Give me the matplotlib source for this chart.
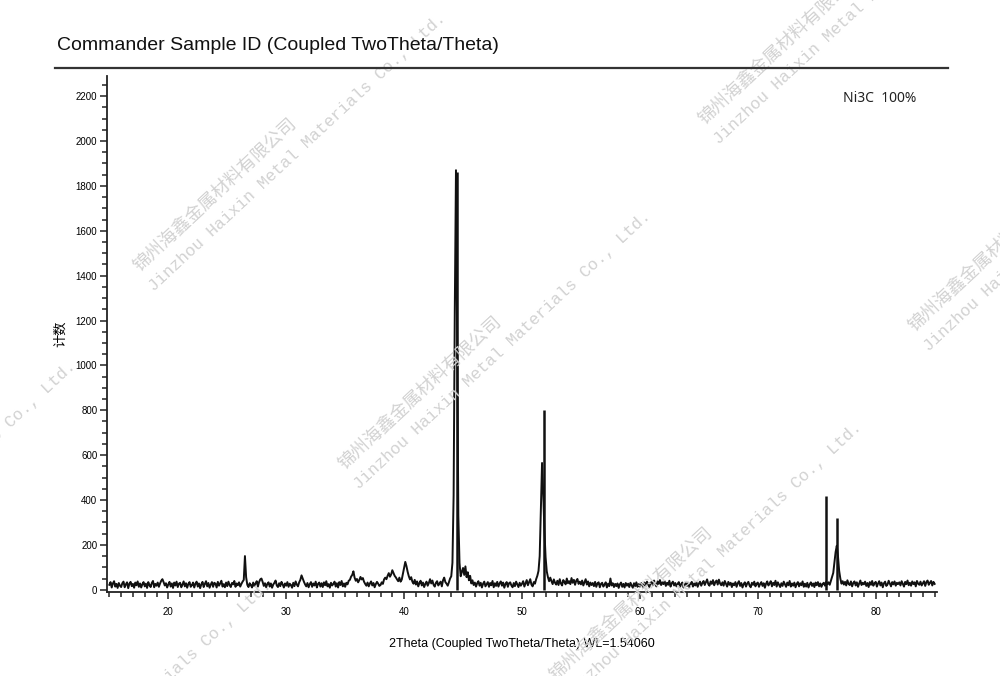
import numpy as np
import matplotlib
matplotlib.use("Agg")
import matplotlib.pyplot as plt
from matplotlib.ticker import MultipleLocator

plt.rcParams['font.family'] = ['Liberation Sans', 'Noto Sans CJK SC', 'DejaVu Sans']

# scan: 2theta from 15.0 to 85.0, step 0.1 deg; one row per degree
scan_start = 15.0
scan_step = 0.1
counts = [
    22, 34, 10, 28, 38, 14, 26, 8, 30, 18,    # 15
    12, 29, 36, 11, 24, 33, 7, 27, 35, 16,    # 16
    26, 9, 32, 20, 37, 13, 28, 10, 25, 34,    # 17
    15, 27, 8, 34, 21, 12, 30, 39, 11, 26,    # 18
    18, 32, 13, 28, 40, 47, 34, 19, 29, 10,   # 19
    24, 35, 14, 28, 8, 32, 19, 36, 12, 27,    # 20
    31, 11, 23, 37, 15, 29, 9, 26, 34, 13,    # 21
    20, 32, 10, 27, 36, 14, 28, 7, 24, 35,    # 22
    12, 26, 38, 15, 30, 9, 23, 34, 13, 31,    # 23
    27, 10, 35, 18, 28, 40, 14, 25, 11, 32,   # 24
    16, 36, 21, 12, 30, 24, 39, 13, 28, 20,   # 25
    33, 14, 26, 36, 44, 150, 56, 22, 12, 29,  # 26
    21, 10, 32, 16, 28, 38, 14, 34, 46, 50,   # 27
    35, 17, 29, 11, 26, 33, 14, 28, 9, 23,    # 28
    31, 41, 19, 12, 29, 16, 35, 24, 10, 28,   # 29
    18, 34, 13, 27, 21, 9, 31, 16, 37, 23,    # 30
    15, 33, 44, 64, 50, 36, 24, 15, 30, 11,   # 31
    25, 34, 13, 28, 19, 36, 10, 26, 32, 14,   # 32
    29, 12, 33, 20, 38, 15, 25, 9, 31, 19,    # 33
    26, 36, 14, 29, 10, 34, 21, 39, 15, 28,   # 34
    13, 31, 24, 40, 44, 58, 66, 82, 54, 40,   # 35
    48, 33, 43, 57, 46, 52, 36, 26, 18, 32,   # 36
    15, 28, 37, 19, 30, 11, 25, 35, 27, 17,   # 37
    21, 33, 26, 46, 54, 47, 62, 74, 58, 68,   # 38
    87, 74, 62, 55, 46, 38, 54, 36, 45, 72,   # 39
    100, 124, 105, 80, 60, 46, 56, 36, 27, 44,  # 40
    23, 37, 15, 30, 40, 19, 32, 12, 26, 36,   # 41
    18, 30, 47, 28, 41, 22, 14, 31, 38, 19,   # 42
    28, 36, 15, 42, 54, 34, 27, 18, 33, 50,   # 43
    60, 120, 420, 1250, 1870, 1100, 330, 120, 60, 80,  # 44
    97, 66, 104, 56, 78, 42, 62, 28, 42, 21,  # 45
    32, 14, 29, 38, 18, 31, 10, 27, 36, 15,   # 46
    25, 34, 13, 30, 20, 39, 11, 29, 17, 35,   # 47
    14, 28, 37, 18, 32, 9, 26, 34, 13, 29,    # 48
    33, 19, 11, 30, 16, 36, 24, 12, 31, 18,   # 49
    27, 38, 14, 29, 43, 20, 33, 47, 23, 15,   # 50
    34, 27, 47, 62, 84, 150, 350, 565, 430, 265,  # 51
    145, 82, 56, 38, 54, 38, 25, 46, 31, 23,  # 52
    40, 21, 47, 28, 19, 43, 35, 24, 50, 29,   # 53
    38, 25, 52, 31, 44, 22, 40, 48, 26, 36,   # 54
    24, 41, 19, 33, 47, 23, 37, 15, 32, 21,   # 55
    30, 16, 35, 13, 28, 33, 11, 26, 31, 14,   # 56
    23, 33, 10, 27, 16, 50, 19, 29, 12, 26,   # 57
    16, 28, 8, 24, 32, 13, 26, 10, 30, 18,    # 58
    27, 12, 31, 19, 9, 29, 16, 33, 13, 25,    # 59
    14, 30, 21, 11, 32, 18, 36, 24, 12, 31,   # 60
    34, 20, 41, 25, 15, 37, 26, 43, 21, 33,   # 61
    25, 38, 17, 31, 22, 40, 14, 29, 36, 19,   # 62
    30, 15, 26, 34, 12, 25, 32, 10, 23, 29,   # 63
    17, 31, 11, 26, 35, 14, 28, 19, 33, 13,   # 64
    27, 36, 18, 30, 39, 21, 33, 46, 25, 18,   # 65
    37, 26, 43, 20, 34, 41, 23, 45, 28, 20,   # 66
    33, 18, 39, 26, 14, 35, 22, 31, 12, 28,   # 67
    20, 34, 13, 29, 38, 17, 30, 10, 25, 33,   # 68
    14, 28, 35, 19, 11, 31, 22, 36, 15, 27,   # 69
    32, 13, 26, 34, 17, 29, 9, 27, 37, 19,    # 70
    28, 38, 15, 31, 21, 40, 14, 33, 23, 12,   # 71
    29, 17, 36, 24, 13, 32, 20, 39, 14, 28,   # 72
    18, 32, 11, 26, 34, 15, 29, 20, 37, 13,   # 73
    27, 14, 31, 10, 24, 33, 17, 28, 12, 32,   # 74
    20, 34, 15, 28, 13, 26, 31, 18, 36, 24,   # 75
    33, 22, 40, 58, 75, 120, 168, 196, 150, 85,  # 76
    50, 27, 38, 23, 35, 19, 42, 26, 21, 37,   # 77
    15, 30, 37, 19, 33, 13, 28, 41, 21, 31,   # 78
    24, 36, 17, 30, 12, 34, 22, 39, 18, 29,   # 79
    35, 14, 28, 38, 19, 32, 11, 29, 36, 17,   # 80
    23, 40, 27, 15, 34, 24, 37, 18, 31, 25,   # 81
    33, 19, 38, 26, 14, 35, 25, 41, 20, 31,   # 82
    18, 37, 25, 33, 15, 39, 27, 22, 36, 19,   # 83
    29, 38, 17, 34, 41, 22, 31, 39, 19, 35,   # 84
    26,                                       # 85
]
two_theta = scan_start + scan_step * np.arange(len(counts))

# reference pattern sticks (Ni3C)
stick_pos = [44.45, 51.85, 75.8, 76.75]
stick_int = [1860, 800, 420, 320]

x_ticks = [20, 30, 40, 50, 60, 70, 80]
y_ticks = [0, 200, 400, 600, 800, 1000, 1200, 1400, 1600, 1800, 2000, 2200]

fig = plt.figure(figsize=(10, 6.76), dpi=100)
ax = fig.add_axes([0.107, 0.1243, 0.83, 0.7633])

ax.plot(two_theta, counts, color='#111111', lw=1.4)
ax.vlines(stick_pos, 0, stick_int, color='#111111', lw=1.8)

ax.set_xlim(14.8, 85.2)
ax.set_ylim(-10, 2290)
ax.set_xticks(x_ticks)
ax.set_yticks(y_ticks)
ax.xaxis.set_minor_locator(MultipleLocator(1))
ax.yaxis.set_minor_locator(MultipleLocator(50))
ax.tick_params(which='major', length=5, width=1.1, labelsize=7, color='#222222', pad=2)
ax.tick_params(which='minor', length=3.5, width=1.1, color='#222222')
ax.tick_params(axis='x', pad=6)

for s in ['top', 'right']:
    ax.spines[s].set_visible(False)
for s in ['left', 'bottom']:
    ax.spines[s].set_linewidth(1.3)
    ax.spines[s].set_color('#222222')

ax.set_ylabel('计数', fontsize=9.5, labelpad=6)
ax.set_xlabel('2Theta (Coupled TwoTheta/Theta) WL=1.54060', fontsize=9, labelpad=15)

fig.text(0.057, 1 - 46 / 676, 'Commander Sample ID (Coupled TwoTheta/Theta)',
         fontsize=14, va='center', ha='left', color='#111111')
fig.add_artist(plt.Line2D([0.055, 0.948], [1 - 68 / 676] * 2, color='#333333', lw=1.6))

fig.text(0.843, 1 - 98 / 676, 'Ni3C  100%', fontsize=10, va='center', ha='left',
         family=['Noto Sans', 'DejaVu Sans'], color='#222222')

# watermarks
wm_cn = '锦州海鑫金属材料有限公司'
wm_en = 'Jinzhou Haixin Metal Materials Co., Ltd.'
wm_spots = [(140, 272), (345, 470), (705, 125), (915, 332), (556, 681), (-230, 620), (-34, 839)]
for px, py in wm_spots:
    fig.text(px / 1000, 1 - py / 676, wm_cn, rotation=43, rotation_mode='anchor',
             fontsize=13, color='#d2d2d2', ha='left', va='baseline',
             family=['Noto Sans CJK SC'], zorder=0)
    fig.text((px + 14) / 1000, 1 - (py + 20) / 676, wm_en, rotation=43, rotation_mode='anchor',
             fontsize=12, color='#d2d2d2', ha='left', va='baseline',
             family=['Liberation Mono'], zorder=0)

fig.savefig('out.png', dpi=100)
